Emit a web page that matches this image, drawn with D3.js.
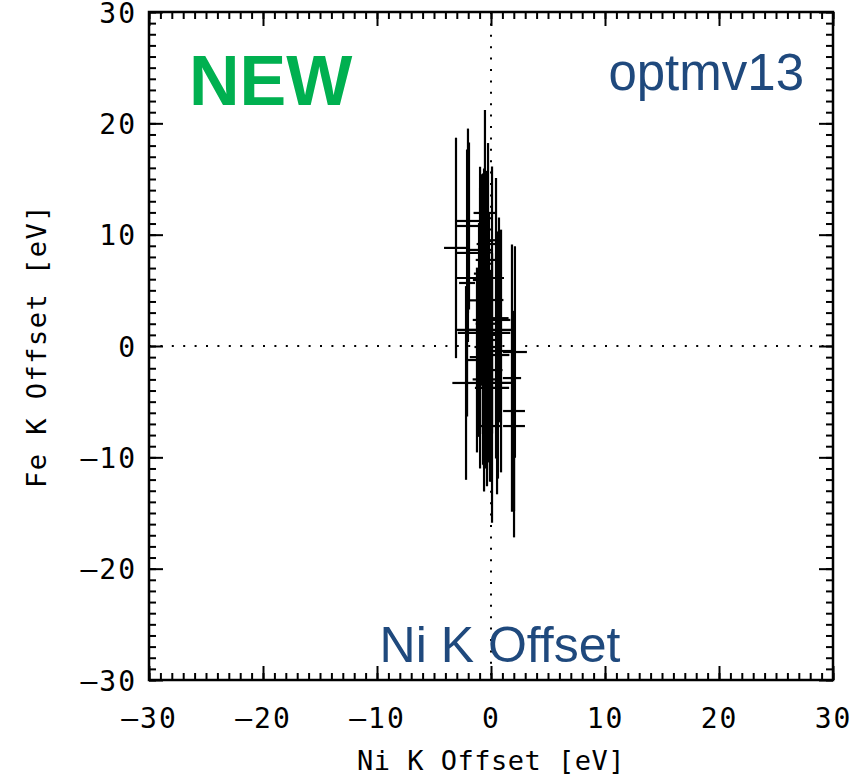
<!DOCTYPE html>
<html>
<head>
<meta charset="utf-8">
<script src="https://cdn.jsdelivr.net/npm/d3@7"></script>
<style>
  body { margin: 0; background: #fff; }
  svg { display: block; }
</style>
</head>
<body>
<div id="chart"></div>
<script>
// offsets in eV: centre and half-width of each error bar
var niOffset  = [-3.07, -2.02, -1.93, -0.53, -0.26, -2.02, -0.96, -2.10, 0.09, 0.44, 0.70, -0.61, -0.61, -0.35, 2.10, 0.61, -2.19, 0.53, 0.09, 2.02, 2.02, -0.09, -1.23, -1.05, 0.88, 1.84, -0.79, -0.53, -0.70, -0.44, -0.26, -0.88, -0.09, -0.96, -0.70, -0.44, -0.18, -0.96, -0.35, -0.61];
var feOffset  = [8.81, 11.23, 10.78, 11.95, 9.16, 8.36, 6.11, 5.66, 4.13, 2.50, 2.34, 1.44, 1.17, -0.09, -0.54, -0.81, -3.32, -3.32, -3.77, -5.84, -7.19, -7.19, -1.26, 1.44, -0.45, -2.88, 5.93, 4.13, 2.34, 7.73, 0.54, 8.63, -2.16, 4.10, 6.5, 2.0, 1.0, -1.0, 9.5, -3.0];
var niError   = [1.05, 1.05, 1.05, 1.00, 1.00, 1.05, 2.10, 0.70, 1.00, 1.10, 1.00, 2.45, 2.30, 1.10, 1.05, 1.00, 1.20, 1.50, 1.50, 0.96, 0.96, 0.90, 1.00, 0.90, 1.00, 0.80, 0.80, 0.70, 0.90, 0.90, 1.00, 1.00, 1.10, 1.00, 0.80, 0.90, 1.00, 0.90, 0.70, 1.00];
var feError   = [9.9, 8.3, 7.5, 9.25, 9.07, 8.0, 8.1, 12.0, 12.0, 12.6, 9.2, 14.5, 12.0, 12.5, 9.5, 11.1, 8.7, 10.0, 12.1, 9.0, 10.0, 5.0, 8.3, 9.6, 10.9, 12.0, 9.5, 11.0, 13.0, 8.0, 11.0, 6.5, 9.0, 12.0, 9.0, 13.0, 11.0, 10.0, 6.0, 8.0];

var majorTicks = [-30, -20, -10, 0, 10, 20, 30];
var minorTicks = d3.range(-30, 31, 1);

var width = 863, height = 780;
var plotL = 149, plotR = 833, plotT = 12, plotB = 680;

var svg = d3.select('#chart')
  .append('svg')
  .attr('width', width)
  .attr('height', height);

var x = d3.scaleLinear().domain([-30, 30]).range([plotL, plotR]);
var y = d3.scaleLinear().domain([-30, 30]).range([plotB, plotT]);

var tickFmt = d => (d < 0 ? '\u2014' + Math.abs(d) : String(d));

// dotted zero lines
svg.append('line')
  .attr('x1', x(0)).attr('x2', x(0))
  .attr('y1', plotT).attr('y2', plotB)
  .attr('stroke', '#000').attr('stroke-width', 2)
  .attr('stroke-dasharray', '2,9.4');
svg.append('line')
  .attr('x1', plotL).attr('x2', plotR)
  .attr('y1', y(0)).attr('y2', y(0))
  .attr('stroke', '#000').attr('stroke-width', 2)
  .attr('stroke-dasharray', '2,9.4');

// error bars
var pts = niOffset.map((d, i) => ({ x: d, y: feOffset[i], xe: niError[i], ye: feError[i] }));
var bars = svg.append('g').attr('stroke', '#000').attr('stroke-width', 2.2);
bars.selectAll('.v').data(pts).enter().append('line')
  .attr('class', 'v')
  .attr('x1', d => x(d.x)).attr('x2', d => x(d.x))
  .attr('y1', d => y(d.y + d.ye)).attr('y2', d => y(d.y - d.ye));
bars.selectAll('.h').data(pts).enter().append('line')
  .attr('class', 'h')
  .attr('x1', d => x(d.x - d.xe)).attr('x2', d => x(d.x + d.xe))
  .attr('y1', d => y(d.y)).attr('y2', d => y(d.y));

// axes: minor and major ticks, pointing inwards, on all four sides
function addAxis(axis, tx, ty, labels) {
  var g = svg.append('g').attr('transform', 'translate(' + tx + ',' + ty + ')');
  g.call(axis.tickValues(minorTicks).tickSize(-7).tickFormat(''));
  var g2 = svg.append('g').attr('transform', 'translate(' + tx + ',' + ty + ')');
  g2.call(axis.tickValues(majorTicks).tickSize(-14).tickFormat(labels ? tickFmt : ''));
  [g, g2].forEach(a => {
    a.select('.domain').remove();
    a.selectAll('line').attr('stroke', '#000').attr('stroke-width', 2);
  });
  return g2;
}
var gx = addAxis(d3.axisBottom(x), 0, plotB, true);
addAxis(d3.axisTop(x), 0, plotT, false);
var gy = addAxis(d3.axisLeft(y), plotL, 0, true);
addAxis(d3.axisRight(y), plotR, 0, false);

gx.selectAll('text')
  .attr('font-family', 'DejaVu Sans Mono')
  .attr('font-size', 28)
  .attr('letter-spacing', 2)
  .attr('fill', '#000')
  .attr('y', 48).attr('dy', 0);
gy.selectAll('text')
  .attr('font-family', 'DejaVu Sans Mono')
  .attr('font-size', 28)
  .attr('letter-spacing', 2)
  .attr('fill', '#000')
  .attr('x', -12).attr('dy', '0.36em');

// frame
svg.append('rect')
  .attr('x', plotL).attr('y', plotT)
  .attr('width', plotR - plotL).attr('height', plotB - plotT)
  .attr('fill', 'none').attr('stroke', '#000').attr('stroke-width', 2.5);

// axis titles
svg.append('text')
  .attr('x', (plotL + plotR) / 2).attr('y', 770)
  .attr('text-anchor', 'middle')
  .attr('font-family', 'DejaVu Sans Mono')
  .attr('font-size', 27)
  .attr('letter-spacing', 0.5)
  .text('Ni K Offset [eV]');
svg.append('text')
  .attr('transform', 'translate(46,' + y(0) + ') rotate(-90)')
  .attr('text-anchor', 'middle')
  .attr('font-family', 'DejaVu Sans Mono')
  .attr('font-size', 27)
  .attr('letter-spacing', 1.5)
  .text('Fe K Offset [eV]');

// overlaid annotations
svg.append('text')
  .attr('x', 189).attr('y', 105)
  .attr('font-family', 'Liberation Sans, Arial, sans-serif')
  .attr('font-weight', 'bold')
  .attr('font-size', 70)
  .attr('fill', '#00b050')
  .text('NEW');
svg.append('text')
  .attr('x', 804).attr('y', 90)
  .attr('text-anchor', 'end')
  .attr('font-family', 'Liberation Sans, Arial, sans-serif')
  .attr('font-size', 51)
  .attr('fill', '#1f497d')
  .text('optmv13');
svg.append('text')
  .attr('x', 500).attr('y', 662)
  .attr('text-anchor', 'middle')
  .attr('font-family', 'Liberation Sans, Arial, sans-serif')
  .attr('font-size', 50)
  .attr('fill', '#1f497d')
  .text('Ni K Offset');
</script>
</body>
</html>
